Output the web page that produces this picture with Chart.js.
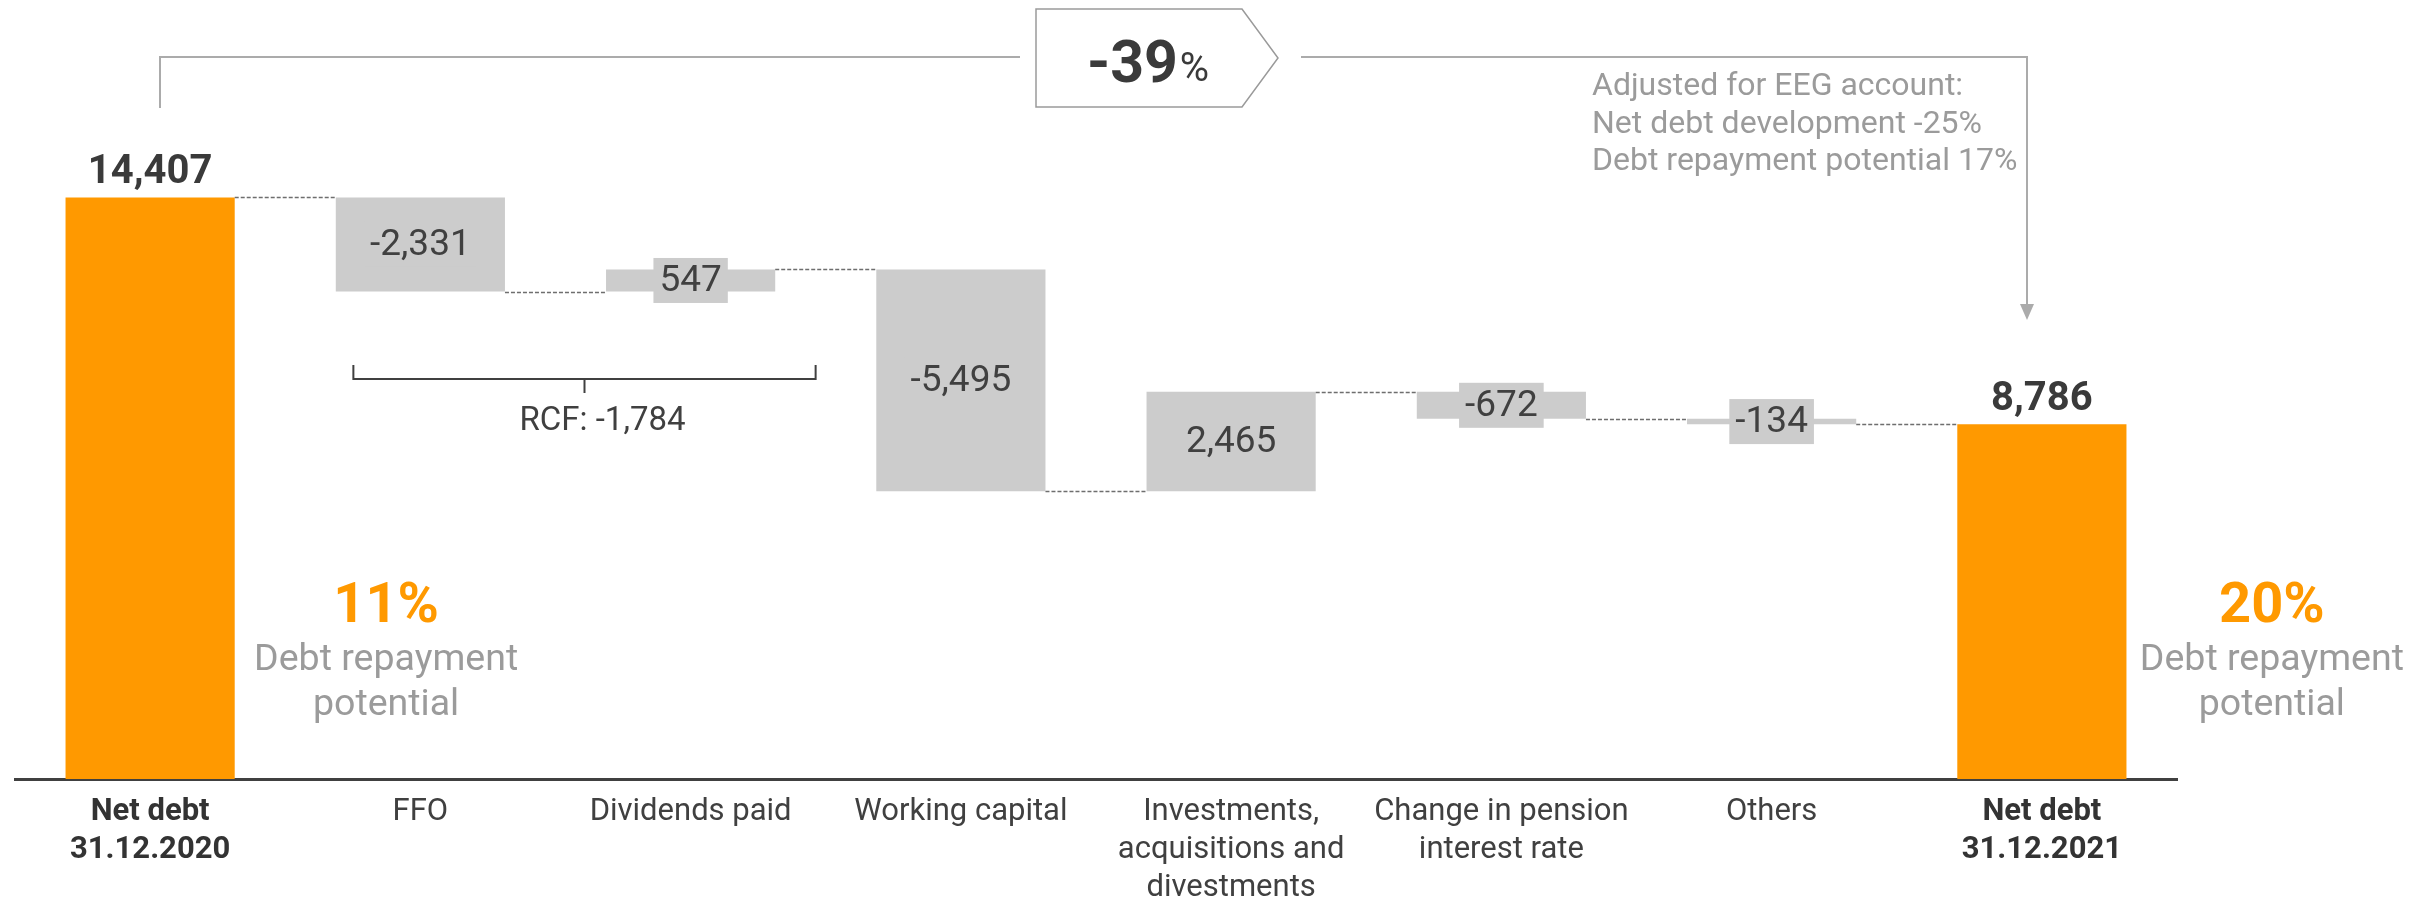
<!DOCTYPE html>
<html>
<head>
<meta charset="utf-8">
<title>Net debt development</title>
<script src="https://cdn.jsdelivr.net/npm/chart.js@4.4.1/dist/chart.umd.min.js"></script>
<style>
  html, body { margin: 0; padding: 0; background: #fff; }
  #wrap { width: 2426px; height: 900px; position: relative; }
</style>
</head>
<body>
<div id="wrap"><canvas id="debtChart"></canvas></div>
<script>
const categories = [
  ['Net debt', '31.12.2020'],
  'FFO',
  'Dividends paid',
  'Working capital',
  ['Investments,', 'acquisitions and', 'divestments'],
  ['Change in pension', 'interest rate'],
  'Others',
  ['Net debt', '31.12.2021']
];
const amounts = [14407, -2331, 547, -5495, 2465, -672, -134, 8786];
const totalFlags = [true, false, false, false, false, false, false, true];
const repaymentPotential = ['11%', '20%'];
const repaymentCaption = ['Debt repayment', 'potential'];
const rcfLabel = 'RCF: -1,784';
const changeLabel = ['-39', '%'];
const eegNote = ['Adjusted for EEG account:', 'Net debt development -25%', 'Debt repayment potential 17%'];

const ORANGE = '#ff9900';
const GREY_BAR = '#cccccc';
const FONT = 'Roboto, "DejaVu Sans", sans-serif';

// floating [from, to] ranges for the waterfall
const ranges = [];
const levels = [];
let running = 0;
amounts.forEach((v, i) => {
  if (totalFlags[i]) { ranges.push([0, v]); running = v; }
  else { ranges.push([running, running + v]); running += v; }
  levels.push(running);
});
const fmt = v => v.toLocaleString('en-US');

function line(ctx, pts) {
  ctx.beginPath();
  ctx.moveTo(pts[0][0], pts[0][1]);
  for (let i = 1; i < pts.length; i++) ctx.lineTo(pts[i][0], pts[i][1]);
  ctx.stroke();
}

const annotations = {
  id: 'annotations',
  afterDatasetsDraw(chart) {
    const ctx = chart.ctx;
    const bars = chart.getDatasetMeta(0).data;
    const y = chart.scales.y;
    ctx.save();

    // dashed connectors between neighbouring bars
    ctx.strokeStyle = '#6e6e6e';
    ctx.lineWidth = 1.5;
    ctx.setLineDash([4, 2]);
    for (let i = 0; i < bars.length - 1; i++) {
      const a = bars[i], b = bars[i + 1];
      const py = Math.round(y.getPixelForValue(levels[i])) + 0.5;
      line(ctx, [[a.x + a.width / 2, py], [b.x - b.width / 2, py]]);
    }
    ctx.setLineDash([]);

    // value labels
    bars.forEach((bar, i) => {
      const txt = fmt(amounts[i]);
      ctx.textAlign = 'center';
      if (totalFlags[i]) {
        ctx.font = `bold 40px ${FONT}`;
        ctx.fillStyle = '#3a3a3a';
        ctx.textBaseline = 'alphabetic';
        ctx.fillText(txt, bar.x, bar.y - 14);
      } else {
        ctx.font = `37px ${FONT}`;
        const w = ctx.measureText(txt).width + 12;
        const cy = (bar.y + bar.base) / 2;
        ctx.fillStyle = GREY_BAR;
        ctx.fillRect(bar.x - w / 2, cy - 22.5, w, 45);
        ctx.fillStyle = '#404040';
        ctx.textBaseline = 'middle';
        ctx.fillText(txt, bar.x, cy + 1);
      }
    });

    // RCF bracket under FFO and dividends
    const bl = bars[1].x - 67, br = bars[2].x + 125, bm = (bl + br) / 2;
    ctx.strokeStyle = '#404040';
    ctx.lineWidth = 2;
    line(ctx, [[bl, 365], [bl, 379], [br, 379], [br, 365]]);
    line(ctx, [[bm, 379], [bm, 393]]);
    ctx.font = `33px ${FONT}`;
    ctx.fillStyle = '#404040';
    ctx.textBaseline = 'alphabetic';
    ctx.textAlign = 'center';
    ctx.fillText(rcfLabel, bm + 18, 430);

    // repayment potential next to the two totals
    [[bars[0].x + 236, 0], [bars[7].x + 230, 1]].forEach(([cx, k]) => {
      ctx.textAlign = 'center';
      ctx.font = `bold 56px ${FONT}`;
      ctx.fillStyle = ORANGE;
      ctx.fillText(repaymentPotential[k], cx, 622);
      ctx.font = `37.5px ${FONT}`;
      ctx.fillStyle = '#9b9b9b';
      ctx.fillText(repaymentCaption[0], cx, 670);
      ctx.fillText(repaymentCaption[1], cx, 715);
    });

    // overall change bracket with arrow into the closing bar
    ctx.strokeStyle = '#ababab';
    ctx.lineWidth = 2;
    line(ctx, [[160, 108], [160, 57], [1020, 57]]);
    line(ctx, [[1301, 57], [2027, 57], [2027, 308]]);
    ctx.fillStyle = '#ababab';
    ctx.beginPath();
    ctx.moveTo(2020, 304); ctx.lineTo(2034, 304); ctx.lineTo(2027, 320);
    ctx.closePath(); ctx.fill();

    ctx.strokeStyle = '#9a9a9a';
    ctx.lineWidth = 1.5;
    ctx.beginPath();
    ctx.moveTo(1036, 9); ctx.lineTo(1242, 9); ctx.lineTo(1278, 58);
    ctx.lineTo(1242, 107); ctx.lineTo(1036, 107); ctx.closePath();
    ctx.stroke();

    ctx.textAlign = 'left';
    ctx.fillStyle = '#3a3a3a';
    ctx.font = `bold 59px ${FONT}`;
    const w39 = ctx.measureText(changeLabel[0]).width;
    ctx.font = `40px ${FONT}`;
    const wPct = ctx.measureText(changeLabel[1]).width;
    const tx = 1148 - (w39 + 2 + wPct) / 2;
    ctx.font = `bold 59px ${FONT}`;
    ctx.fillText(changeLabel[0], tx, 82);
    ctx.font = `40px ${FONT}`;
    ctx.fillText(changeLabel[1], tx + w39 + 2, 81);

    // EEG note
    ctx.font = `32px ${FONT}`;
    ctx.fillStyle = '#9b9b9b';
    eegNote.forEach((t, i) => ctx.fillText(t, 1592, 95 + i * 37.5));

    ctx.restore();
  }
};

new Chart(document.getElementById('debtChart'), {
  type: 'bar',
  data: {
    labels: categories,
    datasets: [{
      data: ranges,
      backgroundColor: totalFlags.map(t => t ? ORANGE : GREY_BAR),
      borderWidth: 0,
      barPercentage: 0.626,
      categoryPercentage: 1
    }]
  },
  options: {
    responsive: true,
    maintainAspectRatio: false,
    animation: false,
    devicePixelRatio: 1,
    layout: { padding: { left: 15, right: 249, top: 12, bottom: 0 } },
    plugins: { legend: { display: false }, tooltip: { enabled: false } },
    scales: {
      x: {
        grid: { display: false, drawTicks: false },
        border: { display: true, color: '#404040', width: 3 },
        ticks: {
          autoSkip: false,
          maxRotation: 0,
          minRotation: 0,
          padding: 14,
          color: c => (c.index === 0 || c.index === 7) ? '#333333' : '#404040',
          font: c => ({
            family: FONT,
            size: 31,
            lineHeight: 1.23,
            weight: (c.index === 0 || c.index === 7) ? 'bold' : 'normal'
          })
        },
        afterFit: scale => { scale.height = 121; }
      },
      y: { display: false, min: 0, max: 19000 }
    }
  },
  plugins: [annotations]
});
</script>
</body>
</html>
